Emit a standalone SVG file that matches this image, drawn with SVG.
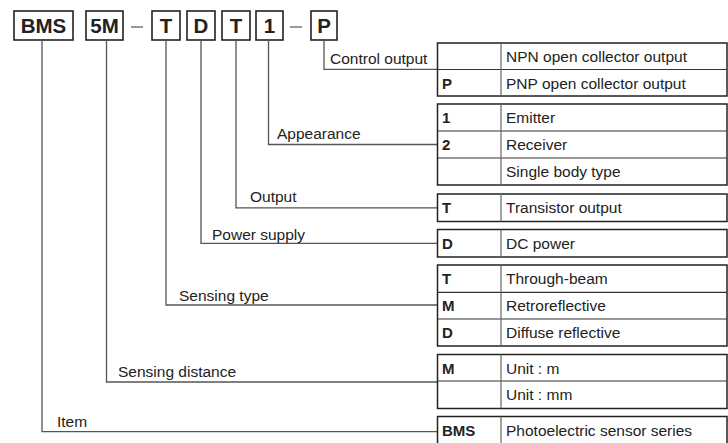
<svg xmlns="http://www.w3.org/2000/svg" width="728" height="443" viewBox="0 0 728 443">
<style>
.hb{fill:#fff;stroke:#222;stroke-width:1.6}
.ht{font-family:"Liberation Sans",Arial,sans-serif;font-weight:bold;font-size:20.5px;fill:#222;text-anchor:middle}
.tb{fill:#fff;stroke:#222;stroke-width:1.5}
.rd{stroke:#333;stroke-width:1.2}
.cd{stroke:#666;stroke-width:1.2}
.c{font-family:"Liberation Sans",Arial,sans-serif;font-weight:bold;font-size:15px;fill:#222}
.d{font-family:"Liberation Sans",Arial,sans-serif;font-size:15.5px;fill:#222}
.l{font-family:"Liberation Sans",Arial,sans-serif;font-size:15.5px;fill:#222}
.cn{fill:none;stroke:#555;stroke-width:1.3}
.dash{stroke:#555;stroke-width:1.2}
</style>
<rect width="728" height="443" fill="#fff"/>
<g id="code">
<g id="h-bms"><rect class="hb" x="14" y="11" width="59" height="29"/><text class="ht" x="43.5" y="33">BMS</text></g>
<g id="h-5m"><rect class="hb" x="86" y="11" width="37" height="29"/><text class="ht" x="104.5" y="33">5M</text></g>
<line class="dash" x1="131" y1="27" x2="143" y2="27"/>
<g id="h-t"><rect class="hb" x="152" y="11" width="28" height="29"/><text class="ht" x="166" y="33">T</text></g>
<g id="h-d"><rect class="hb" x="187" y="11" width="28" height="29"/><text class="ht" x="201" y="33">D</text></g>
<g id="h-t2"><rect class="hb" x="222" y="11" width="28" height="29"/><text class="ht" x="236" y="33">T</text></g>
<g id="h-1"><rect class="hb" x="256" y="11" width="27" height="29"/><text class="ht" x="269.5" y="33">1</text></g>
<line class="dash" x1="290" y1="27" x2="302" y2="27"/>
<g id="h-p"><rect class="hb" x="311" y="11" width="26" height="29"/><text class="ht" x="324" y="33">P</text></g>
</g>
<g id="connectors">
<polyline class="cn" points="324,40.8 324,69.3 437.5,69.3"/>
<polyline class="cn" points="268.5,40.8 268.5,144.5 437.5,144.5"/>
<polyline class="cn" points="236,40.8 236,207.8 437.5,207.8"/>
<polyline class="cn" points="201,40.8 201,243.3 437.5,243.3"/>
<polyline class="cn" points="166,40.8 166,305 437.5,305"/>
<polyline class="cn" points="106.5,40.8 106.5,382 437.5,382"/>
<polyline class="cn" points="42,40.8 42,431.7 437.5,431.7"/>
</g>
<g id="labels">
<text class="l" x="330" y="64">Control output</text>
<text class="l" x="277" y="139">Appearance</text>
<text class="l" x="250" y="202">Output</text>
<text class="l" x="212" y="240">Power supply</text>
<text class="l" x="179" y="301">Sensing type</text>
<text class="l" x="118" y="377">Sensing distance</text>
<text class="l" x="57" y="427">Item</text>
</g>
<g id="t-control">
<rect class="tb" x="437.5" y="43" width="289.5" height="53"/>
<line class="rd" x1="437.5" y1="69.5" x2="727" y2="69.5"/>
<line class="cd" x1="501" y1="43" x2="501" y2="96"/>
<text class="d" x="506" y="62">NPN open collector output</text>
<text class="c" x="442" y="88.5">P</text><text class="d" x="506" y="88.5">PNP open collector output</text>
</g>
<g id="t-appearance">
<rect class="tb" x="437.5" y="104" width="289.5" height="81"/>
<line class="rd" x1="437.5" y1="131" x2="727" y2="131"/>
<line class="rd" x1="437.5" y1="158" x2="727" y2="158"/>
<line class="cd" x1="501" y1="104" x2="501" y2="185"/>
<text class="c" x="442" y="123">1</text><text class="d" x="506" y="123">Emitter</text>
<text class="c" x="442" y="150">2</text><text class="d" x="506" y="150">Receiver</text>
<text class="d" x="506" y="177">Single body type</text>
</g>
<g id="t-output">
<rect class="tb" x="437.5" y="194" width="289.5" height="27.5"/>
<line class="cd" x1="501" y1="194" x2="501" y2="221.5"/>
<text class="c" x="442" y="213.3">T</text><text class="d" x="506" y="213.3">Transistor output</text>
</g>
<g id="t-power">
<rect class="tb" x="437.5" y="229.5" width="289.5" height="27.5"/>
<line class="cd" x1="501" y1="229.5" x2="501" y2="257"/>
<text class="c" x="442" y="248.8">D</text><text class="d" x="506" y="248.8">DC power</text>
</g>
<g id="t-sensing-type">
<rect class="tb" x="437.5" y="265" width="289.5" height="81"/>
<line class="rd" x1="437.5" y1="292.3" x2="727" y2="292.3"/>
<line class="rd" x1="437.5" y1="319" x2="727" y2="319"/>
<line class="cd" x1="501" y1="265" x2="501" y2="346"/>
<text class="c" x="442" y="284">T</text><text class="d" x="506" y="284">Through-beam</text>
<text class="c" x="442" y="311">M</text><text class="d" x="506" y="311">Retroreflective</text>
<text class="c" x="442" y="338">D</text><text class="d" x="506" y="338">Diffuse reflective</text>
</g>
<g id="t-distance">
<rect class="tb" x="437.5" y="354.5" width="289.5" height="54"/>
<line class="rd" x1="437.5" y1="381" x2="727" y2="381"/>
<line class="cd" x1="501" y1="354.5" x2="501" y2="408.5"/>
<text class="c" x="442" y="373.5">M</text><text class="d" x="506" y="373.5">Unit : m</text>
<text class="d" x="506" y="400">Unit : mm</text>
</g>
<g id="t-item">
<rect class="tb" x="437.5" y="416.5" width="289.5" height="40"/>
<line class="cd" x1="501" y1="416.5" x2="501" y2="456"/>
<text class="c" x="442" y="436">BMS</text><text class="d" x="506" y="436">Photoelectric sensor series</text>
</g>
</svg>
